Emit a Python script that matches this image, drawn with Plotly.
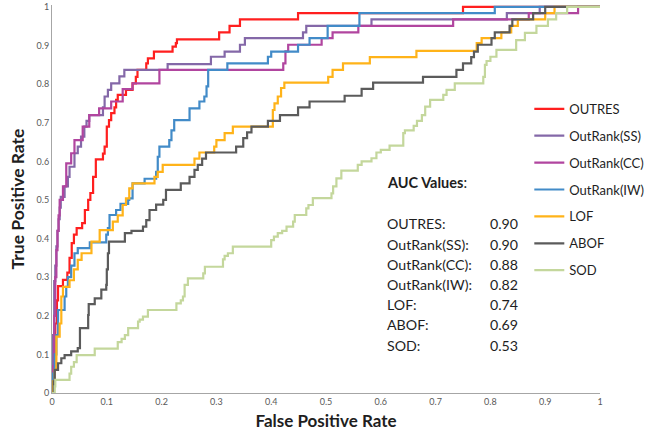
import plotly.graph_objects as go

# ---------------- data (ROC step vertices) ----------------
outres_x = [0, 0.003, 0.006, 0.009, 0.011, 0.02, 0.028, 0.032, 0.036, 0.04, 0.045, 0.055, 0.06, 0.066,
            0.07, 0.075, 0.08, 0.093, 0.096, 0.1, 0.104, 0.108, 0.114, 0.117, 0.12, 0.135, 0.147, 0.153,
            0.156, 0.172, 0.175, 0.186, 0.22, 0.226, 0.228, 0.305, 0.324, 0.343, 0.449, 0.75, 1.0]
outres_y = [0, 0.1, 0.18, 0.24, 0.277, 0.293, 0.312, 0.35, 0.388, 0.41, 0.427, 0.44, 0.474, 0.5,
            0.518, 0.56, 0.605, 0.62, 0.638, 0.69, 0.707, 0.725, 0.74, 0.759, 0.772, 0.785, 0.802, 0.819,
            0.837, 0.854, 0.867, 0.884, 0.897, 0.906, 0.916, 0.934, 0.951, 0.968, 0.984, 1.0, 1.0]

ss_x = [0, 0.002, 0.004, 0.006, 0.008, 0.01, 0.012, 0.014, 0.016, 0.023, 0.029, 0.032, 0.041, 0.047,
        0.053, 0.059, 0.063, 0.068, 0.093, 0.096, 0.102, 0.108, 0.123, 0.132, 0.211, 0.29, 0.315, 0.343,
        0.352, 0.458, 0.464, 0.583, 0.83, 0.89, 1.0]
ss_y = [0, 0.15, 0.29, 0.33, 0.38, 0.42, 0.45, 0.48, 0.508, 0.535, 0.56, 0.586, 0.621, 0.638,
        0.664, 0.69, 0.705, 0.72, 0.74, 0.768, 0.785, 0.802, 0.82, 0.837, 0.852, 0.871, 0.884, 0.902,
        0.919, 0.934, 0.951, 0.968, 0.984, 1.0, 1.0]

cc_x = [0, 0.002, 0.004, 0.006, 0.008, 0.01, 0.012, 0.014, 0.02, 0.026, 0.035, 0.041, 0.056, 0.068,
        0.086, 0.108, 0.129, 0.147, 0.196, 0.422, 0.426, 0.431, 0.492, 0.512, 0.559, 0.732, 0.87, 0.96, 1.0]
cc_y = [0, 0.07, 0.2, 0.3, 0.37, 0.42, 0.46, 0.5, 0.535, 0.595, 0.621, 0.655, 0.69, 0.72,
        0.737, 0.755, 0.787, 0.802, 0.837, 0.854, 0.885, 0.902, 0.919, 0.934, 0.951, 0.968, 0.984, 1.0, 1.0]

iw_x = [0, 0.002, 0.005, 0.008, 0.011, 0.023, 0.026, 0.029, 0.035, 0.041, 0.047, 0.069, 0.099, 0.102,
        0.105, 0.117, 0.125, 0.139, 0.141, 0.147, 0.169, 0.19, 0.193, 0.196, 0.214, 0.218, 0.223, 0.251,
        0.269, 0.278, 0.282, 0.285, 0.32, 0.394, 0.4, 0.449, 0.47, 0.503, 0.561, 0.808, 1.0]
iw_y = [0, 0.05, 0.1, 0.15, 0.215, 0.25, 0.275, 0.3, 0.33, 0.362, 0.375, 0.39, 0.41, 0.427,
        0.461, 0.474, 0.49, 0.5, 0.504, 0.543, 0.555, 0.573, 0.612, 0.638, 0.655, 0.68, 0.707, 0.737,
        0.755, 0.768, 0.794, 0.837, 0.854, 0.871, 0.884, 0.902, 0.919, 0.951, 0.984, 1.0, 1.0]

lof_x = [0, 0.002, 0.005, 0.008, 0.014, 0.017, 0.02, 0.032, 0.04, 0.047, 0.054, 0.072, 0.087, 0.111,
         0.12, 0.129, 0.135, 0.141, 0.147, 0.187, 0.193, 0.202, 0.26, 0.269, 0.296, 0.3, 0.315, 0.33,
         0.403, 0.406, 0.412, 0.418, 0.424, 0.504, 0.512, 0.531, 0.58, 0.665, 0.775, 0.784, 0.82, 0.838,
         0.85, 0.9, 0.917, 1.0]
lof_y = [0, 0.03, 0.06, 0.146, 0.18, 0.25, 0.275, 0.292, 0.32, 0.345, 0.362, 0.392, 0.422, 0.444,
         0.46, 0.487, 0.504, 0.53, 0.543, 0.56, 0.573, 0.591, 0.607, 0.623, 0.638, 0.655, 0.673, 0.69,
         0.733, 0.75, 0.768, 0.79, 0.804, 0.819, 0.837, 0.854, 0.87, 0.886, 0.906, 0.919, 0.934, 0.951,
         0.968, 0.984, 1.0, 1.0]

abof_x = [0, 0.003, 0.005, 0.011, 0.017, 0.023, 0.035, 0.047, 0.051, 0.066, 0.067, 0.078, 0.09, 0.099,
          0.1, 0.102, 0.104, 0.133, 0.145, 0.166, 0.172, 0.178, 0.19, 0.203, 0.208, 0.235, 0.251, 0.26,
          0.266, 0.274, 0.281, 0.336, 0.349, 0.356, 0.364, 0.394, 0.416, 0.449, 0.47, 0.534, 0.565, 0.586,
          0.677, 0.738, 0.75, 0.765, 0.77, 0.777, 0.802, 0.808, 0.835, 0.84, 0.878, 0.9, 1.0]
abof_y = [0, 0.03, 0.06, 0.077, 0.09, 0.098, 0.108, 0.116, 0.168, 0.202, 0.23, 0.245, 0.268, 0.28,
          0.32, 0.362, 0.392, 0.414, 0.42, 0.431, 0.448, 0.474, 0.488, 0.5, 0.526, 0.543, 0.56, 0.578,
          0.591, 0.607, 0.623, 0.638, 0.66, 0.675, 0.69, 0.705, 0.72, 0.74, 0.755, 0.77, 0.788, 0.804,
          0.819, 0.837, 0.854, 0.87, 0.884, 0.902, 0.919, 0.934, 0.951, 0.968, 0.984, 1.0, 1.0]

sod_x = [0, 0.005, 0.006, 0.032, 0.035, 0.04, 0.045, 0.078, 0.12, 0.127, 0.133, 0.139, 0.157, 0.16,
         0.166, 0.175, 0.227, 0.235, 0.239, 0.242, 0.248, 0.276, 0.279, 0.312, 0.315, 0.321, 0.33, 0.4,
         0.405, 0.412, 0.42, 0.428, 0.44, 0.443, 0.464, 0.468, 0.476, 0.51, 0.513, 0.519, 0.528, 0.558,
         0.565, 0.583, 0.592, 0.6, 0.616, 0.641, 0.644, 0.66, 0.666, 0.675, 0.681, 0.69, 0.714, 0.72,
         0.735, 0.787, 0.79, 0.793, 0.8, 0.811, 0.847, 0.863, 0.884, 0.905, 0.92, 0.94, 1.0]
sod_y = [0, 0.017, 0.034, 0.05, 0.068, 0.08, 0.098, 0.115, 0.132, 0.14, 0.15, 0.168, 0.185, 0.19,
         0.198, 0.215, 0.232, 0.24, 0.25, 0.28, 0.297, 0.31, 0.327, 0.346, 0.355, 0.362, 0.379, 0.396,
         0.405, 0.414, 0.42, 0.431, 0.444, 0.461, 0.478, 0.487, 0.505, 0.517, 0.535, 0.556, 0.576, 0.591,
         0.6, 0.608, 0.623, 0.63, 0.641, 0.673, 0.68, 0.692, 0.705, 0.72, 0.742, 0.759, 0.772, 0.785,
         0.802, 0.819, 0.85, 0.86, 0.871, 0.889, 0.914, 0.933, 0.951, 0.968, 0.984, 1.0, 1.0]

series_names = ["OUTRES", "OutRank(SS)", "OutRank(CC)", "OutRank(IW)", "LOF", "ABOF", "SOD"]
series_colors = ["#FF1F1F", "#8468A8", "#B1459F", "#428BC8", "#FFB319", "#5B5B5B", "#C4D79C"]
series_x = [outres_x, ss_x, cc_x, iw_x, lof_x, abof_x, sod_x]
series_y = [outres_y, ss_y, cc_y, iw_y, lof_y, abof_y, sod_y]

auc_labels = ["OUTRES:", "OutRank(SS):", "OutRank(CC):", "OutRank(IW):", "LOF:", "ABOF:", "SOD:"]
auc_values = ["0.90", "0.90", "0.88", "0.82", "0.74", "0.69", "0.53"]

tick_vals = [0, 0.1, 0.2, 0.3, 0.4, 0.5, 0.6, 0.7, 0.8, 0.9, 1]
tick_text = ["0", "0.1", "0.2", "0.3", "0.4", "0.5", "0.6", "0.7", "0.8", "0.9", "1"]

FONT = "Lato, 'Open Sans', sans-serif"
TXT = "#1E1E1E"

fig = go.Figure()
for i, (name, color, xs, ys) in enumerate(zip(series_names, series_colors, series_x, series_y)):
    fig.add_trace(go.Scatter(
        x=xs, y=ys, mode="lines", name=name, line=dict(color=color, width=2.2, shape="hv"),
        legendgroup=f"g{i}", hoverinfo="skip"))

annotations = [dict(x=0.607, y=0.544, xref="x", yref="y", text="<b>AUC Values</b>:",
                    showarrow=False, xanchor="left", yanchor="middle",
                    font=dict(family=FONT, size=14.5, color=TXT))]
for i, (lab, val) in enumerate(zip(auc_labels, auc_values)):
    yy = 0.438 - i * 0.0523
    annotations.append(dict(x=0.607, y=yy, xref="x", yref="y", text=lab, showarrow=False,
                            xanchor="left", yanchor="middle",
                            font=dict(family=FONT, size=14.2, color=TXT)))
    annotations.append(dict(x=0.795, y=yy, xref="x", yref="y", text=val, showarrow=False,
                            xanchor="left", yanchor="middle",
                            font=dict(family=FONT, size=14.2, color=TXT)))

axis_common = dict(showgrid=False, zeroline=False, showline=True, linecolor="#A6A6A6", linewidth=1,
                   ticks="", tickvals=tick_vals, ticktext=tick_text,
                   tickfont=dict(family=FONT, size=9, color="#595959"))

fig.update_layout(
    width=656, height=433,
    margin=dict(l=52, r=56, t=5, b=40, autoexpand=False),
    paper_bgcolor="white", plot_bgcolor="white",
    font=dict(family=FONT, color=TXT),
    showlegend=True,
    legend=dict(x=0.871, y=0.771, xanchor="left", yanchor="top", bgcolor="rgba(0,0,0,0)",
                font=dict(family=FONT, size=13, color=TXT), tracegroupgap=7, itemwidth=30),
    annotations=annotations,
    xaxis=dict(range=[0, 1.0], title=dict(text="<b>False Positive Rate</b>", standoff=9,
               font=dict(family=FONT, size=17, color=TXT)), automargin=False, **axis_common),
    yaxis=dict(range=[0, 1.005], title=dict(text="<b>True Positive Rate</b>", standoff=7,
               font=dict(family=FONT, size=17.5, color=TXT)), automargin=False, **axis_common),
)

fig.write_html("out.html", config={"displayModeBar": False, "staticPlot": True},
               post_script="document.body.style.margin='0';")
